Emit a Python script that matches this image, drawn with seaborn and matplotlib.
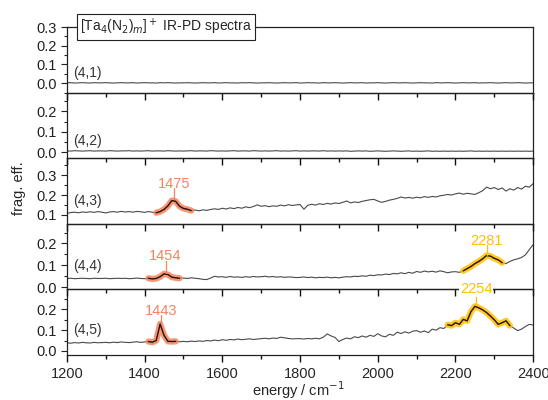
import matplotlib
matplotlib.use("Agg")
import matplotlib.pyplot as plt
import numpy as np
import pandas as pd
import seaborn as sns
from matplotlib.ticker import MultipleLocator, FormatStrFormatter

# energy axis, cm^-1 (10 cm^-1 steps)
energy = np.arange(1200, 2401, 10)

# (4,1) - flat
spec_41 = [
    0.002, 0.003, 0.001, 0.002, 0.003, 0.002, 0.001, 0.003, 0.002, 0.002,
    0.003, 0.002, 0.001, 0.002, 0.003, 0.002, 0.002, 0.003, 0.001, 0.002,
    0.003, 0.002, 0.002, 0.001, 0.003, 0.002, 0.003, 0.002, 0.001, 0.002,
    0.002, 0.003, 0.002, 0.001, 0.002, 0.003, 0.002, 0.002, 0.003, 0.001,
    0.002, 0.003, 0.002, 0.002, 0.001, 0.003, 0.002, 0.003, 0.002, 0.001,
    0.002, 0.002, 0.003, 0.002, 0.001, 0.002, 0.003, 0.002, 0.002, 0.003,
    0.001, 0.002, 0.003, 0.002, 0.002, 0.001, 0.003, 0.002, 0.002, 0.003,
    0.002, 0.001, 0.002, 0.003, 0.002, 0.002, 0.003, 0.001, 0.002, 0.002,
    0.003, 0.002, 0.001, 0.002, 0.003, 0.002, 0.002, 0.003, 0.002, 0.001,
    0.002, 0.003, 0.002, 0.002, 0.001, 0.003, 0.002, 0.002, 0.003, 0.002,
    0.001, 0.002, 0.003, 0.002, 0.002, 0.003, 0.001, 0.002, 0.002, 0.003,
    0.002, 0.001, 0.002, 0.003, 0.002, 0.002, 0.003, 0.002, 0.001, 0.002,
    0.002,
]

# (4,2) - flat, slightly above zero
spec_42 = [
    0.006, 0.005, 0.007, 0.006, 0.005, 0.006, 0.007, 0.005, 0.006, 0.006,
    0.005, 0.007, 0.006, 0.005, 0.006, 0.006, 0.007, 0.005, 0.006, 0.005,
    0.006, 0.007, 0.005, 0.006, 0.006, 0.005, 0.007, 0.006, 0.005, 0.006,
    0.005, 0.006, 0.007, 0.005, 0.006, 0.006, 0.005, 0.007, 0.006, 0.005,
    0.006, 0.005, 0.006, 0.007, 0.005, 0.006, 0.006, 0.005, 0.007, 0.006,
    0.005, 0.006, 0.005, 0.006, 0.007, 0.005, 0.006, 0.005, 0.006, 0.007,
    0.005, 0.006, 0.005, 0.006, 0.006, 0.005, 0.007, 0.005, 0.006, 0.005,
    0.006, 0.005, 0.006, 0.004, 0.005, 0.006, 0.005, 0.006, 0.004, 0.005,
    0.006, 0.005, 0.004, 0.005, 0.006, 0.005, 0.004, 0.005, 0.006, 0.004,
    0.005, 0.004, 0.005, 0.006, 0.004, 0.005, 0.004, 0.005, 0.004, 0.005,
    0.004, 0.005, 0.004, 0.005, 0.006, 0.004, 0.005, 0.004, 0.005, 0.004,
    0.005, 0.004, 0.005, 0.004, 0.005, 0.004, 0.005, 0.004, 0.005, 0.004,
    0.005,
]

# (4,3)
spec_43 = [
    0.107, 0.111, 0.113, 0.110, 0.114, 0.112, 0.115, 0.112, 0.116, 0.113,
    0.109, 0.114, 0.116, 0.113, 0.117, 0.114, 0.116, 0.113, 0.117, 0.115,
    0.112, 0.116, 0.113, 0.110, 0.116, 0.127, 0.145, 0.172, 0.168, 0.143,
    0.132, 0.128, 0.121, 0.124, 0.120, 0.125, 0.122, 0.127, 0.130, 0.127,
    0.133, 0.129, 0.135, 0.131, 0.137, 0.133, 0.140, 0.136, 0.142, 0.150,
    0.143, 0.146, 0.141, 0.145, 0.143, 0.149, 0.145, 0.151, 0.147, 0.150,
    0.152, 0.128, 0.148, 0.153, 0.149, 0.156, 0.152, 0.158, 0.154, 0.160,
    0.157, 0.163, 0.170, 0.160, 0.165, 0.162, 0.168, 0.172, 0.176, 0.178,
    0.170, 0.163, 0.168, 0.174, 0.178, 0.183, 0.190, 0.185, 0.188, 0.184,
    0.189, 0.186, 0.192, 0.188, 0.193, 0.190, 0.196, 0.199, 0.203, 0.200,
    0.206, 0.210, 0.204, 0.209, 0.206, 0.203, 0.212, 0.222, 0.240, 0.232,
    0.238, 0.228, 0.236, 0.220, 0.232, 0.225, 0.238, 0.230, 0.245, 0.240,
    0.258,
]

# (4,4)
spec_44 = [
    0.040, 0.041, 0.039, 0.040, 0.041, 0.040, 0.039, 0.041, 0.040, 0.040,
    0.041, 0.039, 0.040, 0.041, 0.040, 0.041, 0.039, 0.040, 0.042, 0.040,
    0.039, 0.041, 0.038, 0.040, 0.048, 0.061, 0.058, 0.046, 0.043, 0.041,
    0.042, 0.040, 0.043, 0.041, 0.039, 0.036, 0.035, 0.042, 0.050, 0.047,
    0.048, 0.045, 0.049, 0.046, 0.047, 0.045, 0.048, 0.046, 0.049, 0.047,
    0.048, 0.050, 0.047, 0.049, 0.046, 0.048, 0.045, 0.047, 0.046, 0.044,
    0.045, 0.047, 0.044, 0.046, 0.043, 0.045, 0.044, 0.046, 0.043, 0.045,
    0.043, 0.046, 0.048, 0.047, 0.050, 0.049, 0.052, 0.050, 0.055, 0.053,
    0.057, 0.056, 0.060, 0.058, 0.063, 0.061, 0.066, 0.062, 0.068, 0.064,
    0.072, 0.068, 0.074, 0.070, 0.073, 0.069, 0.075, 0.071, 0.066, 0.070,
    0.071, 0.068, 0.075, 0.085, 0.095, 0.108, 0.118, 0.130, 0.145, 0.142,
    0.132, 0.125, 0.112, 0.108, 0.118, 0.125, 0.130, 0.136, 0.148, 0.172,
    0.195,
]

# (4,5)
spec_45 = [
    0.039, 0.037, 0.040, 0.038, 0.041, 0.039, 0.038, 0.041, 0.039, 0.040,
    0.041, 0.039, 0.042, 0.040, 0.043, 0.041, 0.040, 0.042, 0.044, 0.041,
    0.043, 0.045, 0.042, 0.050, 0.130, 0.075, 0.046, 0.045, 0.046, 0.044,
    0.046, 0.044, 0.047, 0.045, 0.048, 0.046, 0.050, 0.048, 0.052, 0.049,
    0.054, 0.051, 0.055, 0.053, 0.057, 0.054, 0.056, 0.058, 0.055, 0.057,
    0.059, 0.061, 0.058, 0.062, 0.060, 0.066, 0.063, 0.060, 0.058, 0.059,
    0.059, 0.057, 0.060, 0.058, 0.061, 0.058, 0.066, 0.082, 0.072, 0.065,
    0.045, 0.055, 0.062, 0.058, 0.068, 0.064, 0.072, 0.066, 0.075, 0.070,
    0.083, 0.072, 0.068, 0.080, 0.075, 0.090, 0.084, 0.092, 0.086, 0.095,
    0.098, 0.090, 0.096, 0.088, 0.105, 0.100, 0.112, 0.108, 0.126, 0.122,
    0.136, 0.128, 0.152, 0.145, 0.190, 0.215, 0.208, 0.198, 0.185, 0.168,
    0.150, 0.128, 0.136, 0.145, 0.122, 0.110, 0.098, 0.105, 0.118, 0.128,
    0.125,
]

labels = ["(4,1)", "(4,2)", "(4,3)", "(4,4)", "(4,5)"]
spectra = [spec_41, spec_42, spec_43, spec_44, spec_45]
ylims = [(-0.05, 0.3001), (-0.03, 0.293), (0.054, 0.387), (-0.01, 0.29), (-0.02, 0.297)]
label_y = [0.055, 0.055, 0.172, 0.095, 0.10]

# highlighted bands: (panel, start, end, colour, peak position, peak height, label y)
orange = "#f4845f"
gold = "#ffc000"
bands = [
    (2, 1430, 1520, orange, 1475, 0.178, 0.254),
    (3, 1410, 1490, orange, 1454, 0.063, 0.142),
    (3, 2220, 2320, gold, 2281, 0.147, 0.212),
    (4, 1410, 1480, orange, 1443, 0.137, 0.195),
    (4, 2180, 2340, gold, 2254, 0.220, 0.298),
]

sns.set_style("ticks")
plt.rcParams["font.family"] = ["Liberation Sans", "DejaVu Sans"]

fig, axes = plt.subplots(5, 1, figsize=(5.48, 4.0), dpi=100, sharex=True)
fig.subplots_adjust(left=0.122, right=0.973, top=0.9325, bottom=0.1125, hspace=0)

for i, ax in enumerate(axes):
    df = pd.DataFrame({"energy": energy, "eff": spectra[i]})
    sns.lineplot(data=df, x="energy", y="eff", ax=ax, color="#4a4a4a", lw=0.8)
    ax.set_xlim(1200, 2400)
    ax.set_ylim(*ylims[i])
    ax.set_xlabel("")
    ax.set_ylabel("")
    # upper panels drawn on top so their downward ticks show in the panel below
    ax.set_zorder(10 - i)
    ax.patch.set_visible(False)
    ax.yaxis.set_major_locator(MultipleLocator(0.1))
    ax.yaxis.set_minor_locator(MultipleLocator(0.05))
    ax.yaxis.set_major_formatter(FormatStrFormatter("%.1f"))
    ax.xaxis.set_major_locator(MultipleLocator(200))
    ax.xaxis.set_minor_locator(MultipleLocator(100))
    ax.tick_params(axis="y", which="major", direction="out", length=4, width=0.8, labelsize=10.5, colors="#222222")
    ax.tick_params(axis="y", which="minor", direction="out", length=2.5, width=0.8)
    ax.tick_params(axis="x", which="both", direction="out", bottom=True, top=False,
                   width=1.0, color="#111111", labelsize=10.5)
    ax.tick_params(axis="x", which="major", length=5)
    ax.tick_params(axis="x", which="minor", length=3)
    for s in ax.spines.values():
        s.set_visible(True)
        s.set_linewidth(0.9)
        s.set_color("#222222")
    ax.text(1215, label_y[i], labels[i], fontsize=10, color="#333333", ha="left", va="center")

axes[-1].tick_params(axis="x", labelbottom=True)

# highlighted peaks
for panel, x0, x1, col, pk, ph, ly in bands:
    ax = axes[panel]
    sel = (energy >= x0) & (energy <= x1)
    seg = pd.DataFrame({"energy": energy[sel], "eff": np.array(spectra[panel])[sel]})
    sns.lineplot(data=seg, x="energy", y="eff", ax=ax, color=col, lw=4.5, alpha=0.85)
    sns.lineplot(data=seg, x="energy", y="eff", ax=ax, color="#2a1208", lw=1.0)
    ax.plot([pk, pk], [ph, ly - 0.02], color=col, lw=0.9)
    if panel == 4 and pk > 2000:
        # label sits on the panel border, on a white patch, above every panel
        fig.text(pk, ly, str(pk), color=col, fontsize=10.5, ha="center", va="center",
                 transform=ax.transData, zorder=30,
                 bbox=dict(boxstyle="square,pad=0.05", fc="white", ec="none"))
    else:
        ax.text(pk, ly, str(pk), color=col, fontsize=10.5, ha="center", va="center", zorder=5)
    ax.set_xlabel("")
    ax.set_ylabel("")

axes[0].text(0.212, 1.0, r"[Ta$_4$(N$_2$)$_m$]$^+$ IR-PD spectra", transform=axes[0].transAxes,
             fontsize=10, ha="center", va="center",
             bbox=dict(boxstyle="square,pad=0.2", fc="white", ec="#222222", lw=0.8))

fig.text(0.035, 0.53, "frag. eff.", rotation=90, ha="center", va="center", fontsize=10.5)
fig.text(0.545, 0.024, r"energy / cm$^{-1}$", ha="center", va="center", fontsize=10.5)

fig.savefig("out.png", dpi=100)
